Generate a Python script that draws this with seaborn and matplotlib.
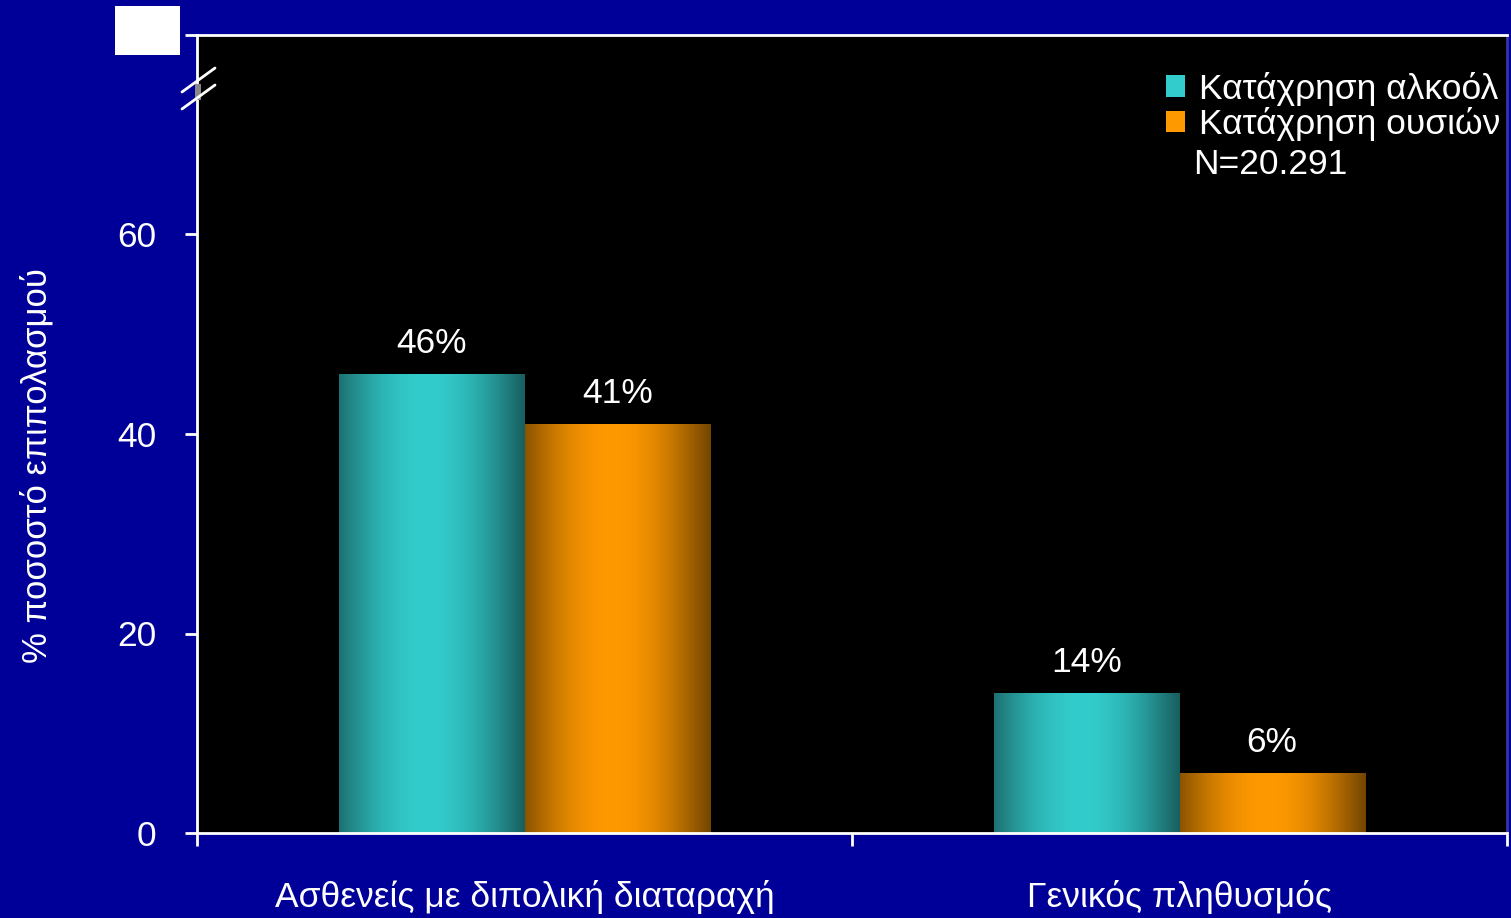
import numpy as np
import pandas as pd
import matplotlib
matplotlib.use("Agg")
import matplotlib.pyplot as plt
import seaborn as sns
from matplotlib.patches import Rectangle
from matplotlib.colors import to_rgb
from matplotlib.lines import Line2D

categories = ["Ασθενείς με διπολική διαταραχή", "Γενικός πληθυσμός"]
series_names = ["Κατάχρηση αλκοόλ", "Κατάχρηση ουσιών"]
alcohol = [46, 14]
substance = [41, 6]
value_labels = [["46%", "14%"], ["41%", "6%"]]
yticks = [0, 20, 40, 60, 80]
ylabel = "% ποσοστό επιπολασμού"
note = "N=20.291"

BG = "#000099"
bright = ["#33CCCC", "#FF9900"]
dark = ["#175a5a", "#6e4200"]

sns.set_theme(style="white")
fams = ["Liberation Sans Narrow", "Liberation Sans", "DejaVu Sans"]
plt.rcParams["font.family"] = fams
FS = 25.5

df = pd.DataFrame({
    "cat": categories * 2,
    "series": [series_names[0]] * 2 + [series_names[1]] * 2,
    "val": alcohol + substance,
})

fig = plt.figure(figsize=(15.11, 9.18), dpi=100, facecolor=BG)
ax = fig.add_axes([197/1511, 85/918, 1310/1511, 798/918])
ax.set_facecolor("black")

sns.barplot(data=df, x="cat", y="val", hue="series", order=categories,
            hue_order=series_names, palette=bright, width=0.566, gap=0.0,
            ax=ax, legend=False, saturation=1, edgecolor="none")

ax.set_xlim(-0.5, 1.5)
ax.set_ylim(0, 80)

# gradient fill
t = np.linspace(0, 1, 256)
w = np.clip(1 - ((t - 0.47) / 0.55) ** 2, 0, 1) ** 1.2
for i, cont in enumerate(ax.containers):
    c1 = np.array(to_rgb(bright[i])); c0 = np.array(to_rgb(dark[i]))
    grad = (c0[None, :] * (1 - w[:, None]) + c1[None, :] * w[:, None])[None, :, :]
    for j, p in enumerate(cont.patches):
        x0, y0 = p.get_x(), p.get_y()
        wd, ht = p.get_width(), p.get_height()
        im = ax.imshow(grad, extent=[x0, x0 + wd, y0, y0 + ht], aspect="auto",
                       interpolation="bilinear", zorder=p.get_zorder() + 0.1)
        im.set_clip_path(p)
        ax.text(x0 + wd / 2, y0 + ht + 1.4, value_labels[i][j], ha="center",
                va="bottom", color="white", fontsize=FS)

ax.set_aspect("auto")
ax.set_xlim(-0.5, 1.5)
ax.set_ylim(0, 80)

for s in ["left", "bottom", "top", "right"]:
    ax.spines[s].set_color("white")
    ax.spines[s].set_linewidth(2)
ax.spines["right"].set_color("#3333aa")

ax.set_yticks(yticks)
ax.set_yticklabels([str(v) for v in yticks])
ax.tick_params(axis="y", left=True, length=9, width=2, color="white",
               colors="white", labelsize=FS, pad=20)
ax.set_xticks([0, 1])
ax.set_xticklabels(categories)
ax.set_xticks([-0.5, 0.5, 1.5], minor=True)
ax.tick_params(axis="x", which="major", length=0, labelsize=FS, colors="white", pad=34)
ax.tick_params(axis="x", which="minor", bottom=True, length=9, width=2, color="white")
ax.set_xlabel("")
ax.set_ylabel(ylabel, color="white", fontsize=25)
ax.yaxis.set_label_coords((54 - 197) / 1310, (833 - 466) / 798)

# legend
handles = [Rectangle((0, 0), 1, 1, facecolor=bright[k], edgecolor="none") for k in range(2)]
leg = ax.legend(handles, series_names, loc="upper right", bbox_to_anchor=(1.006, 0.972),
                frameon=False, fontsize=FS, labelcolor="white", handlelength=0.55,
                handleheight=0.55, handletextpad=0.4, borderaxespad=0.0, labelspacing=0.05)
ax.text((1193 - 197) / 1310, (833 - 165) / 798, note, transform=ax.transAxes,
        color="white", fontsize=FS, ha="left", va="center")

# axis break marks
for y in [78/918, 95/918]:
    fig.add_artist(Line2D([182/1511, 215/1511], [1 - (y + 14/918), 1 - (y - 10/918)],
                          color="white", lw=2, transform=fig.transFigure))
fig.add_artist(Rectangle((195/1511, 1 - 100/918), 6/1511, 16/918, facecolor="#888888",
                         edgecolor="none", transform=fig.transFigure))

# white box covering top label
fig.add_artist(Rectangle((115/1511, 1 - 55/918), 65/1511, 49/918, facecolor="white",
                         edgecolor="none", transform=fig.transFigure, zorder=10))

fig.savefig("out.png", dpi=100, facecolor=BG)
